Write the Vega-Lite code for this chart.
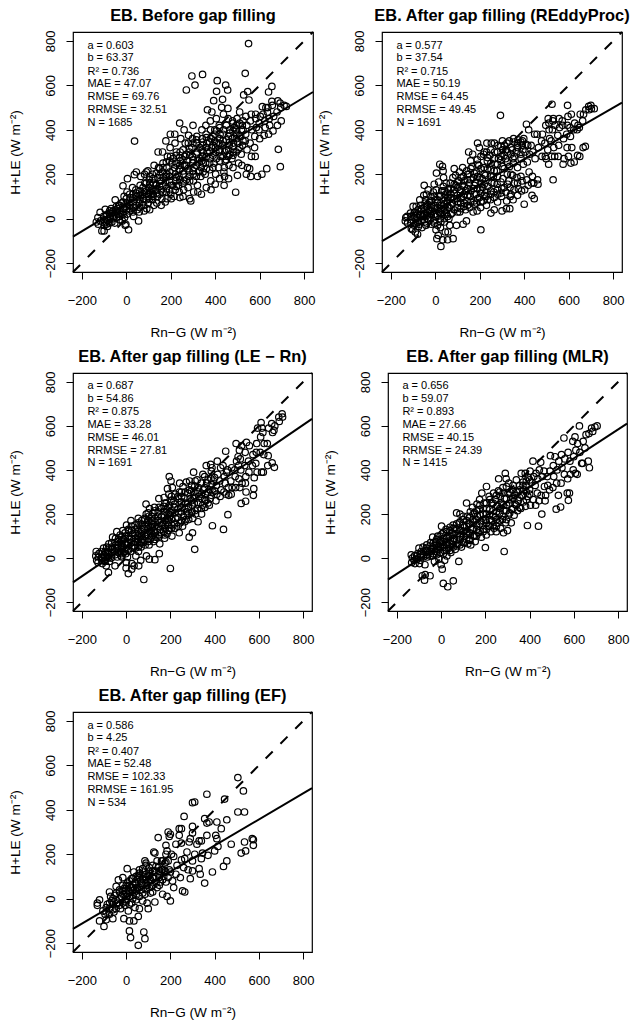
{"$schema":"https://vega.github.io/schema/vega-lite/v6.json","background":"white","padding":{"left":7,"top":7,"right":0,"bottom":0},"spacing":8,
"config":{"font":"Liberation Sans","view":{"stroke":"black","strokeWidth":1.2},
"title":{"font":"Liberation Sans","fontSize":16.4,"fontWeight":"bold","color":"black","anchor":"middle","offset":4},
"axis":{"grid":false,"domain":false,"tickColor":"black","tickSize":7,"tickWidth":1,"labelColor":"black","titleColor":"black","labelFont":"Liberation Sans","titleFont":"Liberation Sans","labelFontSize":13,"titleFontSize":13.6,"titleFontWeight":"normal","values":[-200,0,200,400,600,800],"format":"d","labelOverlap":false,"labelFlush":false},
"axisX":{"labelPadding":15,"titlePadding":18},"axisY":{"labelAngle":-90,"labelAlign":"center","labelBaseline":"bottom","labelPadding":9,"titlePadding":22},
"point":{"shape":"circle","filled":false,"color":"black","size":42,"strokeWidth":1.2,"opacity":1},"text":{"align":"left","baseline":"middle","fontSize":11,"color":"black"},"line":{"color":"black","strokeWidth":2}},
"datasets":{"d":[{"x":-240,"y":-240},{"x":840,"y":840}],
"f1":[{"x":-240,"y":-81},{"x":840,"y":570}],"f2":[{"x":-240,"y":-101},{"x":840,"y":522}],"f3":[{"x":-240,"y":-110},{"x":840,"y":632}],"f4":[{"x":-240,"y":-98},{"x":840,"y":610}],"f5":[{"x":-240,"y":-136},{"x":840,"y":497}],
"t1":[{"t":"a = 0.603","y":779},{"t":"b = 63.37","y":721},{"t":"R² = 0.736","y":662},{"t":"MAE = 47.07","y":604},{"t":"RMSE = 69.76","y":546},{"t":"RRMSE = 32.51","y":488},{"t":"N = 1685","y":430}],
"t2":[{"t":"a = 0.577","y":779},{"t":"b = 37.54","y":721},{"t":"R² = 0.715","y":662},{"t":"MAE = 50.19","y":604},{"t":"RMSE = 64.45","y":546},{"t":"RRMSE = 49.45","y":488},{"t":"N = 1691","y":430}],
"t3":[{"t":"a = 0.687","y":779},{"t":"b = 54.86","y":721},{"t":"R² = 0.875","y":662},{"t":"MAE = 33.28","y":604},{"t":"RMSE = 46.01","y":546},{"t":"RRMSE = 27.81","y":488},{"t":"N = 1691","y":430}],
"t4":[{"t":"a = 0.656","y":779},{"t":"b = 59.07","y":721},{"t":"R² = 0.893","y":662},{"t":"MAE = 27.66","y":604},{"t":"RMSE = 40.15","y":546},{"t":"RRMSE = 24.39","y":488},{"t":"N = 1415","y":430}],
"t5":[{"t":"a = 0.586","y":779},{"t":"b = 4.25","y":721},{"t":"R² = 0.407","y":662},{"t":"MAE = 52.48","y":604},{"t":"RMSE = 102.33","y":546},{"t":"RRMSE = 161.95","y":488},{"t":"N = 534","y":430}],
"p1":[{"x":-135,"y":-15},{"x":-128,"y":5},{"x":-126,"y":-25},{"x":-118,"y":28},{"x":-116,"y":-10},{"x":-110,"y":-55},{"x":-100,"y":-55},{"x":-102,"y":10},{"x":-98,"y":-20},{"x":-95,"y":42},{"x":-85,"y":-35},{"x":-87,"y":20},{"x":-83,"y":-8},{"x":-75,"y":35},{"x":-72,"y":5},{"x":-65,"y":-15},{"x":-63,"y":25},{"x":-68,"y":45},{"x":-50,"y":85},{"x":-52,"y":-20},{"x":-48,"y":40},{"x":-55,"y":10},{"x":-35,"y":60},{"x":-37,"y":20},{"x":-32,"y":-5},{"x":-38,"y":45},{"x":-20,"y":25},{"x":-22,"y":70},{"x":-18,"y":-10},{"x":-15,"y":148},{"x":-10,"y":100},{"x":-12,"y":45},{"x":-5,"y":-30},{"x":-8,"y":5},{"x":5,"y":180},{"x":0,"y":70},{"x":2,"y":20},{"x":-2,"y":-25},{"x":3,"y":120},{"x":10,"y":-50},{"x":15,"y":60},{"x":17,"y":95},{"x":13,"y":35},{"x":30,"y":110},{"x":28,"y":140},{"x":32,"y":50},{"x":33,"y":10},{"x":36,"y":198},{"x":37,"y":349},{"x":45,"y":210},{"x":47,"y":85},{"x":43,"y":130},{"x":55,"y":-10},{"x":48,"y":40},{"x":60,"y":70},{"x":62,"y":150},{"x":58,"y":30},{"x":63,"y":105},{"x":65,"y":190},{"x":80,"y":120},{"x":82,"y":200},{"x":78,"y":60},{"x":77,"y":90},{"x":83,"y":160},{"x":80,"y":35},{"x":90,"y":210},{"x":92,"y":45},{"x":100,"y":100},{"x":102,"y":140},{"x":98,"y":70},{"x":103,"y":175},{"x":105,"y":40},{"x":97,"y":215},{"x":120,"y":110},{"x":122,"y":160},{"x":118,"y":85},{"x":117,"y":200},{"x":124,"y":60},{"x":115,"y":135},{"x":125,"y":240},{"x":140,"y":100},{"x":142,"y":185},{"x":138,"y":130},{"x":143,"y":300},{"x":137,"y":70},{"x":145,"y":230},{"x":135,"y":155},{"x":160,"y":90},{"x":162,"y":210},{"x":158,"y":130},{"x":163,"y":300},{"x":157,"y":60},{"x":165,"y":250},{"x":155,"y":170},{"x":180,"y":120},{"x":178,"y":350},{"x":182,"y":230},{"x":183,"y":90},{"x":177,"y":170},{"x":185,"y":280},{"x":175,"y":75},{"x":181,"y":200},{"x":200,"y":110},{"x":198,"y":380},{"x":203,"y":150},{"x":197,"y":320},{"x":205,"y":250},{"x":195,"y":190},{"x":202,"y":90},{"x":199,"y":280},{"x":220,"y":130},{"x":218,"y":380},{"x":223,"y":170},{"x":217,"y":230},{"x":225,"y":300},{"x":215,"y":100},{"x":222,"y":200},{"x":219,"y":340},{"x":240,"y":430},{"x":238,"y":120},{"x":243,"y":260},{"x":237,"y":190},{"x":245,"y":360},{"x":235,"y":150},{"x":242,"y":300},{"x":239,"y":220},{"x":241,"y":95},{"x":260,"y":400},{"x":258,"y":130},{"x":263,"y":280},{"x":257,"y":200},{"x":265,"y":340},{"x":255,"y":100},{"x":262,"y":240},{"x":259,"y":170},{"x":280,"y":375},{"x":278,"y":140},{"x":283,"y":300},{"x":277,"y":225},{"x":285,"y":90},{"x":275,"y":260},{"x":282,"y":190},{"x":279,"y":340},{"x":290,"y":80},{"x":300,"y":420},{"x":298,"y":360},{"x":303,"y":120},{"x":297,"y":280},{"x":305,"y":230},{"x":295,"y":320},{"x":302,"y":170},{"x":299,"y":250},{"x":301,"y":200},{"x":320,"y":150},{"x":318,"y":300},{"x":323,"y":260},{"x":317,"y":370},{"x":325,"y":210},{"x":315,"y":340},{"x":322,"y":120},{"x":340,"y":400},{"x":338,"y":110},{"x":343,"y":280},{"x":337,"y":230},{"x":345,"y":330},{"x":335,"y":190},{"x":342,"y":360},{"x":339,"y":260},{"x":341,"y":310},{"x":360,"y":140},{"x":358,"y":420},{"x":363,"y":300},{"x":357,"y":250},{"x":365,"y":490},{"x":355,"y":200},{"x":362,"y":340},{"x":359,"y":380},{"x":380,"y":170},{"x":378,"y":440},{"x":383,"y":320},{"x":377,"y":270},{"x":385,"y":480},{"x":375,"y":220},{"x":382,"y":360},{"x":379,"y":400},{"x":381,"y":130},{"x":400,"y":155},{"x":398,"y":400},{"x":403,"y":300},{"x":397,"y":350},{"x":405,"y":450},{"x":395,"y":250},{"x":402,"y":200},{"x":399,"y":380},{"x":401,"y":320},{"x":393,"y":531},{"x":420,"y":180},{"x":418,"y":420},{"x":423,"y":280},{"x":417,"y":340},{"x":429,"y":501},{"x":415,"y":230},{"x":422,"y":380},{"x":419,"y":310},{"x":433,"y":537},{"x":440,"y":150},{"x":438,"y":400},{"x":443,"y":300},{"x":437,"y":470},{"x":445,"y":260},{"x":435,"y":350},{"x":442,"y":190},{"x":439,"y":210},{"x":441,"y":230},{"x":460,"y":180},{"x":458,"y":450},{"x":463,"y":330},{"x":457,"y":280},{"x":465,"y":400},{"x":457,"y":496},{"x":462,"y":240},{"x":459,"y":370},{"x":461,"y":310},{"x":480,"y":230},{"x":478,"y":440},{"x":483,"y":300},{"x":477,"y":360},{"x":485,"y":410},{"x":475,"y":270},{"x":482,"y":340},{"x":492,"y":119},{"x":500,"y":195},{"x":498,"y":450},{"x":503,"y":310},{"x":497,"y":380},{"x":505,"y":250},{"x":495,"y":420},{"x":502,"y":340},{"x":510,"y":480},{"x":520,"y":240},{"x":518,"y":400},{"x":523,"y":330},{"x":517,"y":290},{"x":525,"y":440},{"x":515,"y":370},{"x":522,"y":420},{"x":540,"y":200},{"x":538,"y":460},{"x":543,"y":310},{"x":537,"y":380},{"x":545,"y":230},{"x":535,"y":350},{"x":542,"y":420},{"x":560,"y":190},{"x":558,"y":440},{"x":563,"y":280},{"x":557,"y":340},{"x":565,"y":400},{"x":555,"y":225},{"x":562,"y":470},{"x":580,"y":280},{"x":578,"y":370},{"x":583,"y":450},{"x":577,"y":320},{"x":585,"y":410},{"x":590,"y":190},{"x":582,"y":470},{"x":600,"y":360},{"x":598,"y":430},{"x":603,"y":460},{"x":597,"y":400},{"x":610,"y":200},{"x":620,"y":375},{"x":628,"y":500},{"x":623,"y":440},{"x":632,"y":225},{"x":625,"y":410},{"x":615,"y":470},{"x":640,"y":380},{"x":640,"y":570},{"x":643,"y":450},{"x":637,"y":500},{"x":645,"y":420},{"x":635,"y":480},{"x":660,"y":395},{"x":655,"y":595},{"x":663,"y":460},{"x":657,"y":510},{"x":680,"y":420},{"x":682,"y":530},{"x":678,"y":480},{"x":684,"y":312},{"x":693,"y":234},{"x":697,"y":440},{"x":695,"y":500},{"x":692,"y":520},{"x":710,"y":510},{"x":720,"y":505},{"x":550,"y":788},{"x":295,"y":642},{"x":343,"y":649},{"x":309,"y":601},{"x":270,"y":579},{"x":535,"y":654},{"x":409,"y":621},{"x":447,"y":601},{"x":406,"y":573},{"x":456,"y":579},{"x":528,"y":557},{"x":546,"y":572},{"x":552,"y":534},{"x":655,"y":528},{"x":612,"y":504},
{"x":-100,"y":-30},{"x":-100,"y":-5},{"x":-90,"y":-15},{"x":-90,"y":15},{"x":-90,"y":-25},{"x":-75,"y":-20},{"x":-75,"y":10},{"x":-75,"y":25},{"x":-60,"y":0},{"x":-60,"y":15},{"x":-60,"y":35},{"x":-45,"y":5},{"x":-45,"y":30},{"x":-45,"y":55},{"x":-30,"y":10},{"x":-30,"y":35},{"x":-30,"y":60},{"x":-15,"y":20},{"x":-15,"y":45},{"x":-15,"y":75},{"x":0,"y":40},{"x":0,"y":55},{"x":0,"y":90},{"x":15,"y":45},{"x":15,"y":75},{"x":15,"y":110},{"x":30,"y":30},{"x":30,"y":75},{"x":30,"y":95},{"x":45,"y":60},{"x":45,"y":100},{"x":45,"y":115},{"x":60,"y":50},{"x":60,"y":85},{"x":60,"y":125},{"x":75,"y":75},{"x":75,"y":110},{"x":75,"y":140},{"x":90,"y":85},{"x":90,"y":125},{"x":90,"y":160},{"x":105,"y":90},{"x":105,"y":120},{"x":105,"y":155},{"x":105,"y":190},{"x":120,"y":100},{"x":120,"y":130},{"x":120,"y":180},{"x":135,"y":115},{"x":135,"y":150},{"x":135,"y":205},{"x":150,"y":110},{"x":150,"y":145},{"x":150,"y":195},{"x":150,"y":225},{"x":165,"y":120},{"x":165,"y":150},{"x":165,"y":185},{"x":165,"y":230},{"x":180,"y":135},{"x":180,"y":190},{"x":180,"y":255},{"x":195,"y":130},{"x":195,"y":165},{"x":195,"y":210},{"x":195,"y":260},{"x":210,"y":150},{"x":210,"y":215},{"x":210,"y":270},{"x":225,"y":145},{"x":225,"y":185},{"x":225,"y":250},{"x":225,"y":285},{"x":240,"y":175},{"x":240,"y":240},{"x":240,"y":275},{"x":255,"y":160},{"x":255,"y":215},{"x":255,"y":265},{"x":255,"y":310},{"x":270,"y":175},{"x":270,"y":240},{"x":270,"y":290},{"x":285,"y":170},{"x":285,"y":210},{"x":285,"y":285},{"x":285,"y":315},{"x":300,"y":215},{"x":300,"y":265},{"x":300,"y":340},{"x":315,"y":190},{"x":315,"y":240},{"x":315,"y":290},{"x":315,"y":355},{"x":330,"y":215},{"x":330,"y":270},{"x":330,"y":320},{"x":345,"y":210},{"x":345,"y":250},{"x":345,"y":300},{"x":345,"y":345},{"x":360,"y":225},{"x":360,"y":280},{"x":360,"y":320},{"x":360,"y":365},{"x":375,"y":250},{"x":375,"y":300},{"x":375,"y":345},{"x":390,"y":230},{"x":390,"y":285},{"x":390,"y":330},{"x":390,"y":370},{"x":405,"y":270},{"x":405,"y":340},{"x":405,"y":395},{"x":420,"y":260},{"x":420,"y":300},{"x":420,"y":360},{"x":420,"y":410},{"x":435,"y":280},{"x":435,"y":330},{"x":435,"y":380},{"x":450,"y":265},{"x":450,"y":310},{"x":450,"y":355},{"x":450,"y":420},{"x":465,"y":290},{"x":465,"y":345},{"x":465,"y":385},{"x":480,"y":285},{"x":480,"y":325},{"x":480,"y":395},{"x":480,"y":430},{"x":495,"y":300},{"x":495,"y":360},{"x":495,"y":400},{"x":510,"y":320},{"x":510,"y":375},{"x":510,"y":430},{"x":525,"y":350},{"x":525,"y":400}],
"p2":[{"x":-135,"y":-10},{"x":-133,"y":5},{"x":-125,"y":-20},{"x":-127,"y":10},{"x":-110,"y":-5},{"x":-112,"y":25},{"x":-108,"y":-45},{"x":-100,"y":55},{"x":-102,"y":-50},{"x":-98,"y":15},{"x":-90,"y":-60},{"x":-92,"y":30},{"x":-88,"y":-20},{"x":-86,"y":55},{"x":-80,"y":-70},{"x":-82,"y":5},{"x":-78,"y":40},{"x":-76,"y":-35},{"x":-70,"y":85},{"x":-72,"y":-25},{"x":-68,"y":20},{"x":-66,"y":60},{"x":-60,"y":-40},{"x":-62,"y":45},{"x":-58,"y":10},{"x":-50,"y":150},{"x":-52,"y":105},{"x":-48,"y":-15},{"x":-46,"y":70},{"x":-54,"y":30},{"x":-40,"y":110},{"x":-42,"y":-30},{"x":-38,"y":55},{"x":-36,"y":15},{"x":-44,"y":85},{"x":-30,"y":-5},{"x":-32,"y":130},{"x":-28,"y":40},{"x":-26,"y":75},{"x":-20,"y":100},{"x":-22,"y":20},{"x":-18,"y":-25},{"x":-16,"y":60},{"x":-5,"y":155},{"x":-7,"y":-10},{"x":-3,"y":45},{"x":-1,"y":85},{"x":-9,"y":120},{"x":5,"y":205},{"x":3,"y":-50},{"x":7,"y":-90},{"x":9,"y":70},{"x":1,"y":10},{"x":4,"y":130},{"x":20,"y":245},{"x":13,"y":-75},{"x":17,"y":30},{"x":19,"y":100},{"x":15,"y":165},{"x":25,"y":-125},{"x":27,"y":60},{"x":23,"y":-40},{"x":29,"y":125},{"x":22,"y":0},{"x":32,"y":235},{"x":35,"y":215},{"x":37,"y":185},{"x":33,"y":-95},{"x":39,"y":80},{"x":31,"y":20},{"x":36,"y":145},{"x":45,"y":-60},{"x":47,"y":110},{"x":43,"y":40},{"x":49,"y":160},{"x":41,"y":-15},{"x":55,"y":-95},{"x":57,"y":-60},{"x":53,"y":75},{"x":59,"y":130},{"x":51,"y":20},{"x":56,"y":95},{"x":65,"y":-30},{"x":67,"y":160},{"x":63,"y":50},{"x":69,"y":110},{"x":61,"y":0},{"x":80,"y":-90},{"x":85,"y":225},{"x":77,"y":70},{"x":83,"y":130},{"x":75,"y":25},{"x":79,"y":185},{"x":95,"y":-30},{"x":97,"y":90},{"x":93,"y":150},{"x":99,"y":50},{"x":91,"y":195},{"x":110,"y":30},{"x":112,"y":120},{"x":108,"y":210},{"x":114,"y":70},{"x":106,"y":170},{"x":125,"y":-25},{"x":127,"y":100},{"x":123,"y":230},{"x":129,"y":55},{"x":121,"y":150},{"x":126,"y":190},{"x":140,"y":-10},{"x":142,"y":80},{"x":138,"y":125},{"x":150,"y":300},{"x":136,"y":40},{"x":144,"y":175},{"x":141,"y":215},{"x":155,"y":50},{"x":157,"y":100},{"x":153,"y":160},{"x":159,"y":260},{"x":151,"y":200},{"x":170,"y":30},{"x":172,"y":135},{"x":168,"y":290},{"x":174,"y":80},{"x":166,"y":235},{"x":171,"y":185},{"x":185,"y":70},{"x":190,"y":340},{"x":183,"y":110},{"x":189,"y":265},{"x":181,"y":160},{"x":186,"y":210},{"x":188,"y":35},{"x":205,"y":-50},{"x":202,"y":130},{"x":198,"y":320},{"x":204,"y":50},{"x":196,"y":240},{"x":201,"y":185},{"x":199,"y":95},{"x":215,"y":80},{"x":217,"y":290},{"x":213,"y":140},{"x":219,"y":230},{"x":211,"y":180},{"x":230,"y":60},{"x":232,"y":340},{"x":228,"y":120},{"x":234,"y":260},{"x":226,"y":195},{"x":231,"y":300},{"x":229,"y":100},{"x":250,"y":25},{"x":252,"y":340},{"x":248,"y":85},{"x":254,"y":160},{"x":246,"y":285},{"x":251,"y":220},{"x":249,"y":125},{"x":265,"y":40},{"x":267,"y":300},{"x":263,"y":120},{"x":269,"y":245},{"x":261,"y":190},{"x":266,"y":340},{"x":280,"y":75},{"x":282,"y":330},{"x":278,"y":155},{"x":284,"y":270},{"x":276,"y":215},{"x":281,"y":110},{"x":300,"y":35},{"x":293,"y":465},{"x":302,"y":350},{"x":298,"y":100},{"x":304,"y":180},{"x":296,"y":280},{"x":301,"y":235},{"x":299,"y":135},{"x":303,"y":310},{"x":320,"y":45},{"x":322,"y":340},{"x":318,"y":120},{"x":324,"y":200},{"x":316,"y":270},{"x":321,"y":80},{"x":319,"y":310},{"x":335,"y":45},{"x":337,"y":100},{"x":333,"y":350},{"x":339,"y":290},{"x":331,"y":170},{"x":336,"y":140},{"x":334,"y":235},{"x":350,"y":85},{"x":352,"y":360},{"x":348,"y":195},{"x":354,"y":130},{"x":346,"y":310},{"x":351,"y":250},{"x":349,"y":270},{"x":370,"y":105},{"x":372,"y":355},{"x":368,"y":185},{"x":374,"y":135},{"x":366,"y":300},{"x":371,"y":320},{"x":369,"y":340},{"x":390,"y":170},{"x":392,"y":350},{"x":388,"y":125},{"x":394,"y":310},{"x":386,"y":270},{"x":391,"y":330},{"x":400,"y":65},{"x":402,"y":130},{"x":398,"y":360},{"x":404,"y":300},{"x":396,"y":245},{"x":410,"y":425},{"x":412,"y":175},{"x":408,"y":335},{"x":414,"y":255},{"x":420,"y":400},{"x":422,"y":210},{"x":418,"y":150},{"x":424,"y":290},{"x":416,"y":330},{"x":435,"y":105},{"x":437,"y":190},{"x":433,"y":160},{"x":439,"y":300},{"x":431,"y":330},{"x":445,"y":90},{"x":447,"y":380},{"x":443,"y":160},{"x":449,"y":270},{"x":460,"y":175},{"x":462,"y":155},{"x":458,"y":380},{"x":464,"y":320},{"x":480,"y":280},{"x":482,"y":380},{"x":478,"y":350},{"x":495,"y":280},{"x":497,"y":420},{"x":493,"y":340},{"x":499,"y":270},{"x":510,"y":245},{"x":512,"y":400},{"x":508,"y":450},{"x":514,"y":360},{"x":506,"y":310},{"x":511,"y":430},{"x":525,"y":515},{"x":527,"y":400},{"x":523,"y":280},{"x":529,"y":440},{"x":521,"y":350},{"x":530,"y":175},{"x":537,"y":280},{"x":533,"y":320},{"x":539,"y":420},{"x":531,"y":450},{"x":555,"y":330},{"x":557,"y":450},{"x":553,"y":280},{"x":559,"y":410},{"x":551,"y":375},{"x":575,"y":245},{"x":577,"y":360},{"x":573,"y":420},{"x":579,"y":270},{"x":571,"y":440},{"x":595,"y":510},{"x":597,"y":460},{"x":593,"y":320},{"x":599,"y":280},{"x":591,"y":380},{"x":594,"y":420},{"x":610,"y":250},{"x":612,"y":470},{"x":608,"y":370},{"x":614,"y":320},{"x":606,"y":410},{"x":625,"y":255},{"x":627,"y":430},{"x":623,"y":400},{"x":640,"y":285},{"x":642,"y":420},{"x":638,"y":400},{"x":650,"y":280},{"x":652,"y":470},{"x":648,"y":410},{"x":665,"y":320},{"x":667,"y":470},{"x":663,"y":440},{"x":675,"y":325},{"x":677,"y":490},{"x":690,"y":505},{"x":692,"y":490},{"x":700,"y":510},{"x":702,"y":495},{"x":715,"y":495},
{"x":-110,"y":-20},{"x":-110,"y":10},{"x":-95,"y":-30},{"x":-95,"y":5},{"x":-95,"y":25},{"x":-80,"y":-15},{"x":-80,"y":20},{"x":-65,"y":-10},{"x":-65,"y":15},{"x":-65,"y":40},{"x":-50,"y":-5},{"x":-50,"y":20},{"x":-50,"y":50},{"x":-35,"y":0},{"x":-35,"y":30},{"x":-35,"y":65},{"x":-20,"y":5},{"x":-20,"y":35},{"x":-20,"y":50},{"x":-20,"y":80},{"x":-5,"y":-20},{"x":-5,"y":20},{"x":-5,"y":60},{"x":-5,"y":100},{"x":10,"y":-30},{"x":10,"y":15},{"x":10,"y":50},{"x":10,"y":85},{"x":25,"y":-15},{"x":25,"y":25},{"x":25,"y":45},{"x":25,"y":105},{"x":40,"y":0},{"x":40,"y":35},{"x":40,"y":65},{"x":40,"y":95},{"x":40,"y":125},{"x":55,"y":10},{"x":55,"y":50},{"x":55,"y":80},{"x":55,"y":115},{"x":70,"y":20},{"x":70,"y":60},{"x":70,"y":95},{"x":70,"y":135},{"x":85,"y":40},{"x":85,"y":90},{"x":85,"y":115},{"x":85,"y":155},{"x":100,"y":30},{"x":100,"y":75},{"x":100,"y":105},{"x":100,"y":140},{"x":100,"y":165},{"x":115,"y":45},{"x":115,"y":90},{"x":115,"y":130},{"x":115,"y":185},{"x":130,"y":70},{"x":130,"y":110},{"x":130,"y":145},{"x":130,"y":170},{"x":145,"y":60},{"x":145,"y":105},{"x":145,"y":135},{"x":145,"y":200},{"x":160,"y":75},{"x":160,"y":125},{"x":160,"y":175},{"x":160,"y":225},{"x":175,"y":65},{"x":175,"y":110},{"x":175,"y":150},{"x":175,"y":205},{"x":190,"y":90},{"x":190,"y":135},{"x":190,"y":190},{"x":190,"y":245},{"x":205,"y":75},{"x":205,"y":115},{"x":205,"y":160},{"x":205,"y":225},{"x":205,"y":280},{"x":220,"y":105},{"x":220,"y":155},{"x":220,"y":200},{"x":220,"y":300},{"x":235,"y":85},{"x":235,"y":145},{"x":235,"y":225},{"x":235,"y":275},{"x":250,"y":110},{"x":250,"y":190},{"x":250,"y":250},{"x":250,"y":310},{"x":265,"y":95},{"x":265,"y":160},{"x":265,"y":215},{"x":265,"y":270},{"x":280,"y":130},{"x":280,"y":190},{"x":280,"y":245},{"x":280,"y":300},{"x":295,"y":115},{"x":295,"y":165},{"x":295,"y":265},{"x":295,"y":325},{"x":310,"y":140},{"x":310,"y":225},{"x":310,"y":285},{"x":310,"y":330},{"x":325,"y":155},{"x":325,"y":255},{"x":325,"y":300},{"x":340,"y":110},{"x":340,"y":200},{"x":340,"y":320},{"x":355,"y":160},{"x":355,"y":280},{"x":355,"y":345},{"x":370,"y":160},{"x":370,"y":230},{"x":370,"y":330},{"x":385,"y":190},{"x":385,"y":290},{"x":385,"y":345}],
"p3":[{"x":-135,"y":30},{"x":-133,"y":-10},{"x":-137,"y":10},{"x":-125,"y":5},{"x":-127,"y":-20},{"x":-123,"y":20},{"x":-110,"y":0},{"x":-112,"y":30},{"x":-108,"y":-25},{"x":-100,"y":15},{"x":-102,"y":45},{"x":-98,"y":-10},{"x":-90,"y":-35},{"x":-92,"y":25},{"x":-88,"y":50},{"x":-86,"y":5},{"x":-80,"y":-65},{"x":-82,"y":20},{"x":-78,"y":65},{"x":-76,"y":-15},{"x":-65,"y":70},{"x":-67,"y":0},{"x":-63,"y":40},{"x":-61,"y":95},{"x":-50,"y":-35},{"x":-52,"y":30},{"x":-48,"y":90},{"x":-46,"y":60},{"x":-40,"y":5},{"x":-42,"y":120},{"x":-38,"y":50},{"x":-36,"y":75},{"x":-25,"y":30},{"x":-27,"y":105},{"x":-23,"y":10},{"x":-21,"y":65},{"x":-15,"y":125},{"x":-17,"y":45},{"x":-13,"y":85},{"x":-11,"y":25},{"x":-19,"y":5},{"x":0,"y":-45},{"x":2,"y":150},{"x":-2,"y":20},{"x":4,"y":60},{"x":-4,"y":100},{"x":1,"y":-20},{"x":10,"y":-70},{"x":12,"y":125},{"x":8,"y":40},{"x":14,"y":85},{"x":6,"y":5},{"x":25,"y":-50},{"x":22,"y":170},{"x":23,"y":70},{"x":29,"y":110},{"x":21,"y":30},{"x":26,"y":-25},{"x":24,"y":145},{"x":40,"y":130},{"x":42,"y":90},{"x":38,"y":55},{"x":44,"y":10},{"x":36,"y":-35},{"x":55,"y":180},{"x":57,"y":-35},{"x":53,"y":100},{"x":59,"y":65},{"x":51,"y":140},{"x":56,"y":30},{"x":70,"y":110},{"x":72,"y":150},{"x":68,"y":50},{"x":74,"y":85},{"x":66,"y":-10},{"x":80,"y":-97},{"x":82,"y":135},{"x":78,"y":70},{"x":84,"y":180},{"x":90,"y":245},{"x":92,"y":10},{"x":88,"y":100},{"x":94,"y":160},{"x":86,"y":60},{"x":91,"y":200},{"x":105,"y":-5},{"x":107,"y":120},{"x":103,"y":190},{"x":109,"y":85},{"x":101,"y":150},{"x":106,"y":225},{"x":104,"y":60},{"x":120,"y":105},{"x":122,"y":205},{"x":118,"y":140},{"x":124,"y":75},{"x":116,"y":170},{"x":130,"y":-7},{"x":132,"y":160},{"x":128,"y":230},{"x":134,"y":95},{"x":126,"y":125},{"x":150,"y":20},{"x":152,"y":65},{"x":148,"y":270},{"x":154,"y":130},{"x":146,"y":190},{"x":151,"y":100},{"x":149,"y":230},{"x":153,"y":160},{"x":170,"y":120},{"x":172,"y":275},{"x":168,"y":195},{"x":174,"y":90},{"x":166,"y":155},{"x":171,"y":235},{"x":185,"y":110},{"x":187,"y":315},{"x":183,"y":220},{"x":189,"y":150},{"x":181,"y":250},{"x":186,"y":180},{"x":195,"y":370},{"x":197,"y":135},{"x":193,"y":290},{"x":199,"y":210},{"x":191,"y":170},{"x":196,"y":240},{"x":200,"y":-47},{"x":207,"y":100},{"x":203,"y":350},{"x":209,"y":320},{"x":201,"y":195},{"x":206,"y":150},{"x":204,"y":260},{"x":220,"y":135},{"x":222,"y":290},{"x":218,"y":230},{"x":224,"y":180},{"x":216,"y":260},{"x":240,"y":115},{"x":242,"y":340},{"x":238,"y":205},{"x":244,"y":160},{"x":236,"y":270},{"x":241,"y":300},{"x":255,"y":145},{"x":257,"y":325},{"x":253,"y":230},{"x":259,"y":190},{"x":251,"y":280},{"x":270,"y":175},{"x":272,"y":345},{"x":268,"y":250},{"x":274,"y":210},{"x":266,"y":300},{"x":285,"y":95},{"x":287,"y":350},{"x":283,"y":175},{"x":289,"y":270},{"x":281,"y":230},{"x":286,"y":310},{"x":300,"y":115},{"x":305,"y":390},{"x":298,"y":210},{"x":304,"y":270},{"x":296,"y":330},{"x":301,"y":180},{"x":299,"y":240},{"x":310,"y":40},{"x":312,"y":350},{"x":308,"y":250},{"x":314,"y":200},{"x":306,"y":300},{"x":325,"y":165},{"x":327,"y":320},{"x":323,"y":225},{"x":329,"y":280},{"x":321,"y":355},{"x":345,"y":240},{"x":347,"y":380},{"x":343,"y":270},{"x":349,"y":310},{"x":341,"y":200},{"x":360,"y":260},{"x":362,"y":420},{"x":358,"y":290},{"x":364,"y":340},{"x":356,"y":230},{"x":380,"y":270},{"x":382,"y":425},{"x":378,"y":310},{"x":384,"y":360},{"x":376,"y":240},{"x":390,"y":147},{"x":392,"y":300},{"x":388,"y":410},{"x":394,"y":350},{"x":410,"y":290},{"x":412,"y":440},{"x":408,"y":330},{"x":414,"y":380},{"x":406,"y":260},{"x":425,"y":280},{"x":427,"y":410},{"x":423,"y":350},{"x":429,"y":310},{"x":440,"y":130},{"x":442,"y":300},{"x":438,"y":420},{"x":444,"y":370},{"x":450,"y":485},{"x":452,"y":290},{"x":448,"y":340},{"x":454,"y":390},{"x":460,"y":197},{"x":462,"y":320},{"x":458,"y":400},{"x":464,"y":285},{"x":475,"y":290},{"x":477,"y":410},{"x":473,"y":350},{"x":479,"y":320},{"x":495,"y":320},{"x":497,"y":520},{"x":493,"y":370},{"x":499,"y":440},{"x":491,"y":400},{"x":510,"y":360},{"x":512,"y":490},{"x":508,"y":420},{"x":514,"y":320},{"x":506,"y":460},{"x":520,"y":248},{"x":522,"y":510},{"x":518,"y":400},{"x":524,"y":340},{"x":516,"y":450},{"x":540,"y":258},{"x":542,"y":300},{"x":538,"y":480},{"x":544,"y":525},{"x":536,"y":420},{"x":541,"y":370},{"x":539,"y":340},{"x":555,"y":390},{"x":557,"y":510},{"x":553,"y":440},{"x":575,"y":285},{"x":577,"y":315},{"x":573,"y":470},{"x":579,"y":365},{"x":571,"y":420},{"x":590,"y":520},{"x":592,"y":390},{"x":588,"y":480},{"x":594,"y":590},{"x":586,"y":430},{"x":610,"y":615},{"x":612,"y":390},{"x":608,"y":550},{"x":614,"y":590},{"x":606,"y":480},{"x":620,"y":390},{"x":622,"y":470},{"x":618,"y":570},{"x":624,"y":520},{"x":640,"y":420},{"x":642,"y":465},{"x":638,"y":520},{"x":644,"y":590},{"x":660,"y":432},{"x":662,"y":570},{"x":658,"y":610},{"x":670,"y":412},{"x":672,"y":600},{"x":668,"y":580},{"x":690,"y":640},{"x":692,"y":620},{"x":705,"y":655},{"x":707,"y":640},
{"x":-110,"y":5},{"x":-110,"y":-10},{"x":-95,"y":10},{"x":-95,"y":-15},{"x":-95,"y":30},{"x":-80,"y":0},{"x":-80,"y":30},{"x":-80,"y":45},{"x":-65,"y":10},{"x":-65,"y":25},{"x":-65,"y":50},{"x":-50,"y":15},{"x":-50,"y":45},{"x":-50,"y":70},{"x":-35,"y":25},{"x":-35,"y":60},{"x":-35,"y":85},{"x":-20,"y":20},{"x":-20,"y":50},{"x":-20,"y":80},{"x":-20,"y":95},{"x":-5,"y":30},{"x":-5,"y":65},{"x":-5,"y":90},{"x":-5,"y":115},{"x":10,"y":35},{"x":10,"y":70},{"x":10,"y":100},{"x":10,"y":130},{"x":25,"y":50},{"x":25,"y":90},{"x":25,"y":125},{"x":40,"y":45},{"x":40,"y":75},{"x":40,"y":110},{"x":40,"y":150},{"x":55,"y":50},{"x":55,"y":85},{"x":55,"y":120},{"x":55,"y":160},{"x":70,"y":70},{"x":70,"y":100},{"x":70,"y":130},{"x":70,"y":170},{"x":85,"y":80},{"x":85,"y":115},{"x":85,"y":145},{"x":85,"y":175},{"x":100,"y":75},{"x":100,"y":105},{"x":100,"y":135},{"x":100,"y":170},{"x":100,"y":205},{"x":115,"y":95},{"x":115,"y":125},{"x":115,"y":155},{"x":115,"y":190},{"x":130,"y":85},{"x":130,"y":115},{"x":130,"y":145},{"x":130,"y":180},{"x":130,"y":215},{"x":145,"y":105},{"x":145,"y":145},{"x":145,"y":170},{"x":145,"y":210},{"x":160,"y":115},{"x":160,"y":150},{"x":160,"y":190},{"x":160,"y":225},{"x":175,"y":105},{"x":175,"y":135},{"x":175,"y":170},{"x":175,"y":210},{"x":175,"y":250},{"x":190,"y":125},{"x":190,"y":160},{"x":190,"y":200},{"x":190,"y":230},{"x":205,"y":135},{"x":205,"y":175},{"x":205,"y":215},{"x":205,"y":280},{"x":220,"y":155},{"x":220,"y":205},{"x":220,"y":245},{"x":235,"y":145},{"x":235,"y":185},{"x":235,"y":225},{"x":235,"y":280},{"x":250,"y":170},{"x":250,"y":210},{"x":250,"y":255},{"x":250,"y":300},{"x":265,"y":165},{"x":265,"y":225},{"x":265,"y":270},{"x":280,"y":195},{"x":280,"y":250},{"x":280,"y":295},{"x":295,"y":205},{"x":295,"y":260},{"x":295,"y":305},{"x":310,"y":215},{"x":310,"y":275},{"x":310,"y":325},{"x":325,"y":245},{"x":325,"y":300},{"x":340,"y":225},{"x":340,"y":290},{"x":340,"y":340},{"x":355,"y":265},{"x":355,"y":320},{"x":355,"y":370},{"x":370,"y":250},{"x":370,"y":300},{"x":370,"y":355},{"x":385,"y":285},{"x":385,"y":335},{"x":385,"y":395},{"x":400,"y":305},{"x":400,"y":365}],
"p4":[{"x":-135,"y":15},{"x":-133,"y":-20},{"x":-130,"y":0},{"x":-122,"y":-10},{"x":-120,"y":10},{"x":-118,"y":-25},{"x":-108,"y":-5},{"x":-106,"y":20},{"x":-100,"y":45},{"x":-98,"y":-25},{"x":-92,"y":5},{"x":-90,"y":30},{"x":-85,"y":-80},{"x":-82,"y":50},{"x":-80,"y":15},{"x":-75,"y":-100},{"x":-72,"y":-75},{"x":-73,"y":-30},{"x":-70,"y":35},{"x":-65,"y":60},{"x":-62,"y":5},{"x":-55,"y":25},{"x":-50,"y":-80},{"x":-48,"y":70},{"x":-45,"y":40},{"x":-40,"y":10},{"x":-38,"y":95},{"x":-32,"y":55},{"x":-30,"y":-15},{"x":-25,"y":75},{"x":-22,"y":30},{"x":-15,"y":100},{"x":-12,"y":50},{"x":-10,"y":-5},{"x":-5,"y":80},{"x":-3,"y":25},{"x":0,"y":-30},{"x":2,"y":145},{"x":5,"y":-50},{"x":4,"y":110},{"x":7,"y":60},{"x":10,"y":-115},{"x":12,"y":90},{"x":14,"y":35},{"x":16,"y":-10},{"x":22,"y":130},{"x":24,"y":70},{"x":26,"y":10},{"x":30,"y":-130},{"x":32,"y":100},{"x":34,"y":45},{"x":40,"y":140},{"x":42,"y":80},{"x":44,"y":25},{"x":50,"y":115},{"x":52,"y":60},{"x":55,"y":-103},{"x":54,"y":150},{"x":60,"y":90},{"x":62,"y":135},{"x":64,"y":40},{"x":70,"y":205},{"x":72,"y":110},{"x":74,"y":65},{"x":80,"y":-15},{"x":82,"y":160},{"x":84,"y":85},{"x":85,"y":200},{"x":90,"y":125},{"x":92,"y":50},{"x":100,"y":175},{"x":102,"y":100},{"x":104,"y":70},{"x":106,"y":140},{"x":115,"y":250},{"x":117,"y":120},{"x":119,"y":190},{"x":121,"y":65},{"x":125,"y":155},{"x":130,"y":85},{"x":132,"y":210},{"x":134,"y":60},{"x":140,"y":130},{"x":142,"y":230},{"x":144,"y":175},{"x":150,"y":100},{"x":152,"y":205},{"x":154,"y":75},{"x":160,"y":150},{"x":162,"y":245},{"x":164,"y":190},{"x":170,"y":115},{"x":172,"y":220},{"x":174,"y":265},{"x":180,"y":165},{"x":182,"y":95},{"x":184,"y":295},{"x":190,"y":200},{"x":192,"y":130},{"x":194,"y":250},{"x":200,"y":48},{"x":202,"y":175},{"x":205,"y":325},{"x":204,"y":105},{"x":206,"y":225},{"x":215,"y":145},{"x":217,"y":280},{"x":219,"y":195},{"x":225,"y":120},{"x":227,"y":250},{"x":229,"y":170},{"x":235,"y":215},{"x":237,"y":295},{"x":239,"y":135},{"x":245,"y":185},{"x":247,"y":265},{"x":249,"y":120},{"x":255,"y":235},{"x":257,"y":160},{"x":260,"y":360},{"x":259,"y":305},{"x":265,"y":205},{"x":267,"y":280},{"x":269,"y":135},{"x":275,"y":245},{"x":277,"y":175},{"x":279,"y":320},{"x":285,"y":30},{"x":282,"y":115},{"x":284,"y":215},{"x":286,"y":270},{"x":290,"y":385},{"x":292,"y":160},{"x":294,"y":360},{"x":296,"y":240},{"x":300,"y":125},{"x":302,"y":295},{"x":304,"y":195},{"x":306,"y":340},{"x":315,"y":265},{"x":317,"y":160},{"x":319,"y":220},{"x":321,"y":310},{"x":330,"y":195},{"x":332,"y":285},{"x":334,"y":245},{"x":340,"y":355},{"x":345,"y":215},{"x":347,"y":300},{"x":349,"y":260},{"x":355,"y":330},{"x":360,"y":225},{"x":362,"y":385},{"x":364,"y":285},{"x":370,"y":345},{"x":372,"y":255},{"x":374,"y":310},{"x":380,"y":385},{"x":382,"y":235},{"x":384,"y":330},{"x":390,"y":148},{"x":392,"y":280},{"x":394,"y":365},{"x":400,"y":310},{"x":402,"y":395},{"x":404,"y":240},{"x":406,"y":345},{"x":415,"y":440},{"x":417,"y":265},{"x":419,"y":370},{"x":425,"y":330},{"x":427,"y":240},{"x":429,"y":385},{"x":435,"y":295},{"x":437,"y":360},{"x":440,"y":145},{"x":442,"y":260},{"x":444,"y":400},{"x":450,"y":435},{"x":452,"y":285},{"x":455,"y":200},{"x":457,"y":370},{"x":465,"y":395},{"x":467,"y":325},{"x":470,"y":260},{"x":472,"y":285},{"x":480,"y":370},{"x":482,"y":330},{"x":490,"y":310},{"x":492,"y":395},{"x":494,"y":465},{"x":505,"y":320},{"x":507,"y":420},{"x":509,"y":370},{"x":515,"y":460},{"x":520,"y":222},{"x":522,"y":340},{"x":524,"y":400},{"x":530,"y":285},{"x":532,"y":440},{"x":540,"y":232},{"x":542,"y":340},{"x":544,"y":470},{"x":546,"y":410},{"x":555,"y":545},{"x":557,"y":380},{"x":559,"y":450},{"x":570,"y":295},{"x":575,"y":262},{"x":572,"y":360},{"x":574,"y":480},{"x":580,"y":295},{"x":582,"y":440},{"x":584,"y":380},{"x":595,"y":530},{"x":597,"y":400},{"x":599,"y":460},{"x":605,"y":550},{"x":607,"y":385},{"x":609,"y":490},{"x":615,"y":380},{"x":617,"y":520},{"x":625,"y":600},{"x":627,"y":480},{"x":635,"y":430},{"x":640,"y":430},{"x":642,"y":530},{"x":650,"y":500},{"x":655,"y":560},{"x":665,"y":440},{"x":670,"y":410},{"x":668,"y":565},{"x":680,"y":590},{"x":685,"y":575},{"x":695,"y":595},{"x":705,"y":600},
{"x":-110,"y":-5},{"x":-110,"y":10},{"x":-95,"y":-10},{"x":-95,"y":15},{"x":-80,"y":5},{"x":-80,"y":30},{"x":-65,"y":15},{"x":-65,"y":35},{"x":-65,"y":45},{"x":-50,"y":10},{"x":-50,"y":30},{"x":-50,"y":55},{"x":-35,"y":20},{"x":-35,"y":45},{"x":-35,"y":70},{"x":-20,"y":15},{"x":-20,"y":40},{"x":-20,"y":60},{"x":-20,"y":85},{"x":-5,"y":25},{"x":-5,"y":50},{"x":-5,"y":70},{"x":-5,"y":100},{"x":10,"y":20},{"x":10,"y":55},{"x":10,"y":75},{"x":10,"y":115},{"x":25,"y":35},{"x":25,"y":60},{"x":25,"y":90},{"x":25,"y":120},{"x":40,"y":35},{"x":40,"y":65},{"x":40,"y":100},{"x":40,"y":125},{"x":55,"y":50},{"x":55,"y":75},{"x":55,"y":105},{"x":55,"y":135},{"x":70,"y":55},{"x":70,"y":85},{"x":70,"y":130},{"x":70,"y":155},{"x":85,"y":60},{"x":85,"y":100},{"x":85,"y":125},{"x":85,"y":165},{"x":100,"y":70},{"x":100,"y":120},{"x":100,"y":150},{"x":100,"y":190},{"x":115,"y":85},{"x":115,"y":105},{"x":115,"y":145},{"x":115,"y":170},{"x":130,"y":80},{"x":130,"y":115},{"x":130,"y":155},{"x":130,"y":185},{"x":145,"y":100},{"x":145,"y":135},{"x":145,"y":165},{"x":145,"y":200},{"x":160,"y":100},{"x":160,"y":130},{"x":160,"y":175},{"x":160,"y":215},{"x":175,"y":125},{"x":175,"y":155},{"x":175,"y":195},{"x":175,"y":240},{"x":190,"y":120},{"x":190,"y":170},{"x":190,"y":225},{"x":205,"y":130},{"x":205,"y":160},{"x":205,"y":200},{"x":205,"y":250},{"x":220,"y":145},{"x":220,"y":175},{"x":220,"y":220},{"x":220,"y":265},{"x":235,"y":150},{"x":235,"y":190},{"x":235,"y":250},{"x":250,"y":145},{"x":250,"y":175},{"x":250,"y":210},{"x":250,"y":285},{"x":265,"y":170},{"x":265,"y":225},{"x":265,"y":300},{"x":280,"y":190},{"x":280,"y":240},{"x":280,"y":295},{"x":295,"y":175},{"x":295,"y":215},{"x":295,"y":270},{"x":295,"y":325},{"x":310,"y":205},{"x":310,"y":250},{"x":310,"y":300},{"x":325,"y":225},{"x":325,"y":270},{"x":325,"y":330},{"x":340,"y":240},{"x":340,"y":300},{"x":355,"y":230},{"x":355,"y":275},{"x":355,"y":310},{"x":370,"y":285},{"x":370,"y":330},{"x":385,"y":265},{"x":385,"y":300},{"x":385,"y":350},{"x":400,"y":290},{"x":400,"y":355}],
"p5":[{"x":505,"y":545},{"x":530,"y":485},{"x":365,"y":470},{"x":310,"y":435},{"x":300,"y":432},{"x":445,"y":448},{"x":505,"y":390},{"x":535,"y":390},{"x":262,"y":370},{"x":355,"y":360},{"x":375,"y":345},{"x":365,"y":340},{"x":410,"y":345},{"x":430,"y":315},{"x":455,"y":355},{"x":300,"y":325},{"x":5,"y":135},{"x":55,"y":-210},{"x":85,"y":-180},{"x":20,"y":-175},{"x":15,"y":-145},{"x":80,"y":-150},{"x":-100,"y":-125},{"x":475,"y":245},{"x":570,"y":270},{"x":575,"y":265},{"x":535,"y":255},{"x":575,"y":240},{"x":540,"y":215},{"x":520,"y":205},{"x":455,"y":170},{"x":440,"y":145},{"x":390,"y":120},{"x":355,"y":70},{"x":335,"y":110},{"x":300,"y":125},{"x":290,"y":90},{"x":265,"y":30},{"x":255,"y":35},{"x":200,"y":-10},{"x":185,"y":10},{"x":165,"y":20},{"x":130,"y":-15},{"x":100,"y":-45},{"x":95,"y":-20},{"x":60,"y":-45},{"x":55,"y":-80},{"x":35,"y":-100},{"x":15,"y":-100},{"x":-10,"y":-90},{"x":-60,"y":-90},{"x":-90,"y":-95},{"x":-120,"y":-100},{"x":-130,"y":-20},{"x":-120,"y":-5},{"x":-75,"y":30},{"x":-45,"y":55},{"x":-35,"y":85},{"x":-15,"y":95},{"x":25,"y":90},{"x":-130,"y":-30},{"x":145,"y":275},{"x":190,"y":300},{"x":200,"y":290},{"x":195,"y":280},{"x":240,"y":315},{"x":250,"y":315},{"x":240,"y":285},{"x":300,"y":295},{"x":290,"y":270},{"x":285,"y":255},{"x":320,"y":245},{"x":340,"y":260},{"x":365,"y":285},{"x":330,"y":260},{"x":405,"y":285},{"x":410,"y":270},{"x":400,"y":215},{"x":415,"y":235},{"x":345,"y":205},{"x":370,"y":195},{"x":340,"y":180},{"x":300,"y":170},{"x":275,"y":210},{"x":265,"y":180},{"x":250,"y":250},{"x":225,"y":245},{"x":180,"y":240},{"x":185,"y":215},{"x":125,"y":210},{"x":130,"y":205},{"x":85,"y":170},{"x":90,"y":160},{"x":120,"y":150},{"x":140,"y":170},{"x":160,"y":130},{"x":175,"y":160},{"x":190,"y":170},{"x":205,"y":200},{"x":215,"y":190},{"x":230,"y":150},{"x":245,"y":95},{"x":215,"y":50},{"x":210,"y":80},{"x":195,"y":130},{"x":170,"y":100},{"x":155,"y":75},{"x":140,"y":50},{"x":120,"y":30},{"x":110,"y":85},{"x":105,"y":120},{"x":95,"y":60},{"x":80,"y":100},{"x":75,"y":135},{"x":70,"y":40},{"x":65,"y":80},{"x":55,"y":105},{"x":50,"y":50},{"x":45,"y":15},{"x":40,"y":70},{"x":30,"y":35},{"x":25,"y":-20},{"x":20,"y":50},{"x":15,"y":10},{"x":10,"y":-55},{"x":5,"y":70},{"x":0,"y":25},{"x":-5,"y":-30},{"x":-10,"y":45},{"x":-20,"y":10},{"x":-25,"y":-45},{"x":-30,"y":30},{"x":-40,"y":-20},{"x":-50,"y":15},{"x":-55,"y":-60},{"x":-65,"y":-10},{"x":-75,"y":-45},{"x":-85,"y":-25},{"x":-95,"y":-70},{"x":-105,"y":-55},{"x":-70,"y":10},{"x":-15,"y":60},{"x":35,"y":120},{"x":60,"y":130},{"x":85,"y":20},{"x":100,"y":100},{"x":115,"y":55},{"x":130,"y":125},{"x":150,"y":110},{"x":160,"y":170},{"x":180,"y":75},{"x":200,"y":120},{"x":225,"y":110},{"x":70,"y":70},{"x":50,"y":85},{"x":30,"y":65},{"x":10,"y":40},{"x":-5,"y":-5},{"x":40,"y":-40},{"x":75,"y":-10},{"x":90,"y":85},{"x":110,"y":25},{"x":125,"y":90},{"x":145,"y":140},{"x":175,"y":125},{"x":190,"y":95},{"x":260,"y":140},{"x":310,"y":200},{"x":330,"y":135},{"x":280,"y":130},{"x":250,"y":175},
{"x":-90,"y":-60},{"x":-90,"y":-40},{"x":-75,"y":-70},{"x":-75,"y":-20},{"x":-60,"y":-50},{"x":-60,"y":-25},{"x":-60,"y":0},{"x":-45,"y":-45},{"x":-45,"y":-5},{"x":-45,"y":25},{"x":-30,"y":-30},{"x":-30,"y":0},{"x":-30,"y":40},{"x":-15,"y":-20},{"x":-15,"y":20},{"x":-15,"y":35},{"x":0,"y":-15},{"x":0,"y":10},{"x":0,"y":45},{"x":0,"y":60},{"x":15,"y":-25},{"x":15,"y":30},{"x":15,"y":60},{"x":15,"y":80},{"x":30,"y":0},{"x":30,"y":15},{"x":30,"y":50},{"x":30,"y":90},{"x":45,"y":-5},{"x":45,"y":35},{"x":45,"y":65},{"x":45,"y":100},{"x":60,"y":10},{"x":60,"y":50},{"x":60,"y":95},{"x":60,"y":115},{"x":75,"y":25},{"x":75,"y":60},{"x":75,"y":90},{"x":75,"y":120},{"x":90,"y":40},{"x":90,"y":70},{"x":90,"y":110},{"x":90,"y":150},{"x":105,"y":50},{"x":105,"y":80},{"x":105,"y":105},{"x":105,"y":140},{"x":120,"y":60},{"x":120,"y":95},{"x":120,"y":125},{"x":135,"y":70},{"x":135,"y":100},{"x":135,"y":145},{"x":150,"y":60},{"x":150,"y":95},{"x":150,"y":125},{"x":165,"y":85},{"x":165,"y":130},{"x":165,"y":170},{"x":180,"y":120},{"x":180,"y":165},{"x":180,"y":200}]},
"vconcat":[
{"bounds":"flush","spacing":69,"hconcat":[
{"title":"EB. Before gap filling","width":240,"height":240,"encoding":{"y":{"field":"y","type":"quantitative","scale":{"domain":[-240,840],"nice":false,"zero":false},"title":"H+LE (W m⁻²)"}},"layer":[
{"data":{"name":"p1"},"mark":"point","encoding":{"x":{"field":"x","type":"quantitative","scale":{"domain":[-240,840],"nice":false,"zero":false},"title":"Rn−G (W m⁻²)"}}},
{"data":{"name":"d"},"mark":{"type":"line","strokeDash":[10,11]},"encoding":{"x":{"field":"x","type":"quantitative"}}},
{"data":{"name":"f1"},"mark":"line","encoding":{"x":{"field":"x","type":"quantitative"}}},
{"data":{"name":"t1"},"mark":"text","encoding":{"x":{"datum":-175,"type":"quantitative"},"text":{"field":"t"}}}]},
{"title":"EB. After gap filling (REddyProc)","width":240,"height":240,"encoding":{"y":{"field":"y","type":"quantitative","scale":{"domain":[-240,840],"nice":false,"zero":false},"title":"H+LE (W m⁻²)"}},"layer":[
{"data":{"name":"p2"},"mark":"point","encoding":{"x":{"field":"x","type":"quantitative","scale":{"domain":[-240,840],"nice":false,"zero":false},"title":"Rn−G (W m⁻²)"}}},
{"data":{"name":"d"},"mark":{"type":"line","strokeDash":[10,11]},"encoding":{"x":{"field":"x","type":"quantitative"}}},
{"data":{"name":"f2"},"mark":"line","encoding":{"x":{"field":"x","type":"quantitative"}}},
{"data":{"name":"t2"},"mark":"text","encoding":{"x":{"datum":-175,"type":"quantitative"},"text":{"field":"t"}}}]}]},
{"bounds":"flush","spacing":76,"hconcat":[
{"title":"EB. After gap filling (LE − Rn)","width":239,"height":238,"encoding":{"y":{"field":"y","type":"quantitative","scale":{"domain":[-240,840],"nice":false,"zero":false},"title":"H+LE (W m⁻²)"}},"layer":[
{"data":{"name":"p3"},"mark":"point","encoding":{"x":{"field":"x","type":"quantitative","scale":{"domain":[-240,840],"nice":false,"zero":false},"title":"Rn−G (W m⁻²)"}}},
{"data":{"name":"d"},"mark":{"type":"line","strokeDash":[10,11]},"encoding":{"x":{"field":"x","type":"quantitative"}}},
{"data":{"name":"f3"},"mark":"line","encoding":{"x":{"field":"x","type":"quantitative"}}},
{"data":{"name":"t3"},"mark":"text","encoding":{"x":{"datum":-175,"type":"quantitative"},"text":{"field":"t"}}}]},
{"title":"EB. After gap filling (MLR)","width":239,"height":238,"encoding":{"y":{"field":"y","type":"quantitative","scale":{"domain":[-240,840],"nice":false,"zero":false},"title":"H+LE (W m⁻²)"}},"layer":[
{"data":{"name":"p4"},"mark":"point","encoding":{"x":{"field":"x","type":"quantitative","scale":{"domain":[-240,840],"nice":false,"zero":false},"title":"Rn−G (W m⁻²)"}}},
{"data":{"name":"d"},"mark":{"type":"line","strokeDash":[10,11]},"encoding":{"x":{"field":"x","type":"quantitative"}}},
{"data":{"name":"f4"},"mark":"line","encoding":{"x":{"field":"x","type":"quantitative"}}},
{"data":{"name":"t4"},"mark":"text","encoding":{"x":{"datum":-175,"type":"quantitative"},"text":{"field":"t"}}}]}]},
{"title":"EB. After gap filling (EF)","width":239,"height":240,"encoding":{"y":{"field":"y","type":"quantitative","scale":{"domain":[-240,840],"nice":false,"zero":false},"title":"H+LE (W m⁻²)"}},"layer":[
{"data":{"name":"p5"},"mark":"point","encoding":{"x":{"field":"x","type":"quantitative","scale":{"domain":[-240,840],"nice":false,"zero":false},"title":"Rn−G (W m⁻²)"}}},
{"data":{"name":"d"},"mark":{"type":"line","strokeDash":[10,11]},"encoding":{"x":{"field":"x","type":"quantitative"}}},
{"data":{"name":"f5"},"mark":"line","encoding":{"x":{"field":"x","type":"quantitative"}}},
{"data":{"name":"t5"},"mark":"text","encoding":{"x":{"datum":-175,"type":"quantitative"},"text":{"field":"t"}}}]}
]}
